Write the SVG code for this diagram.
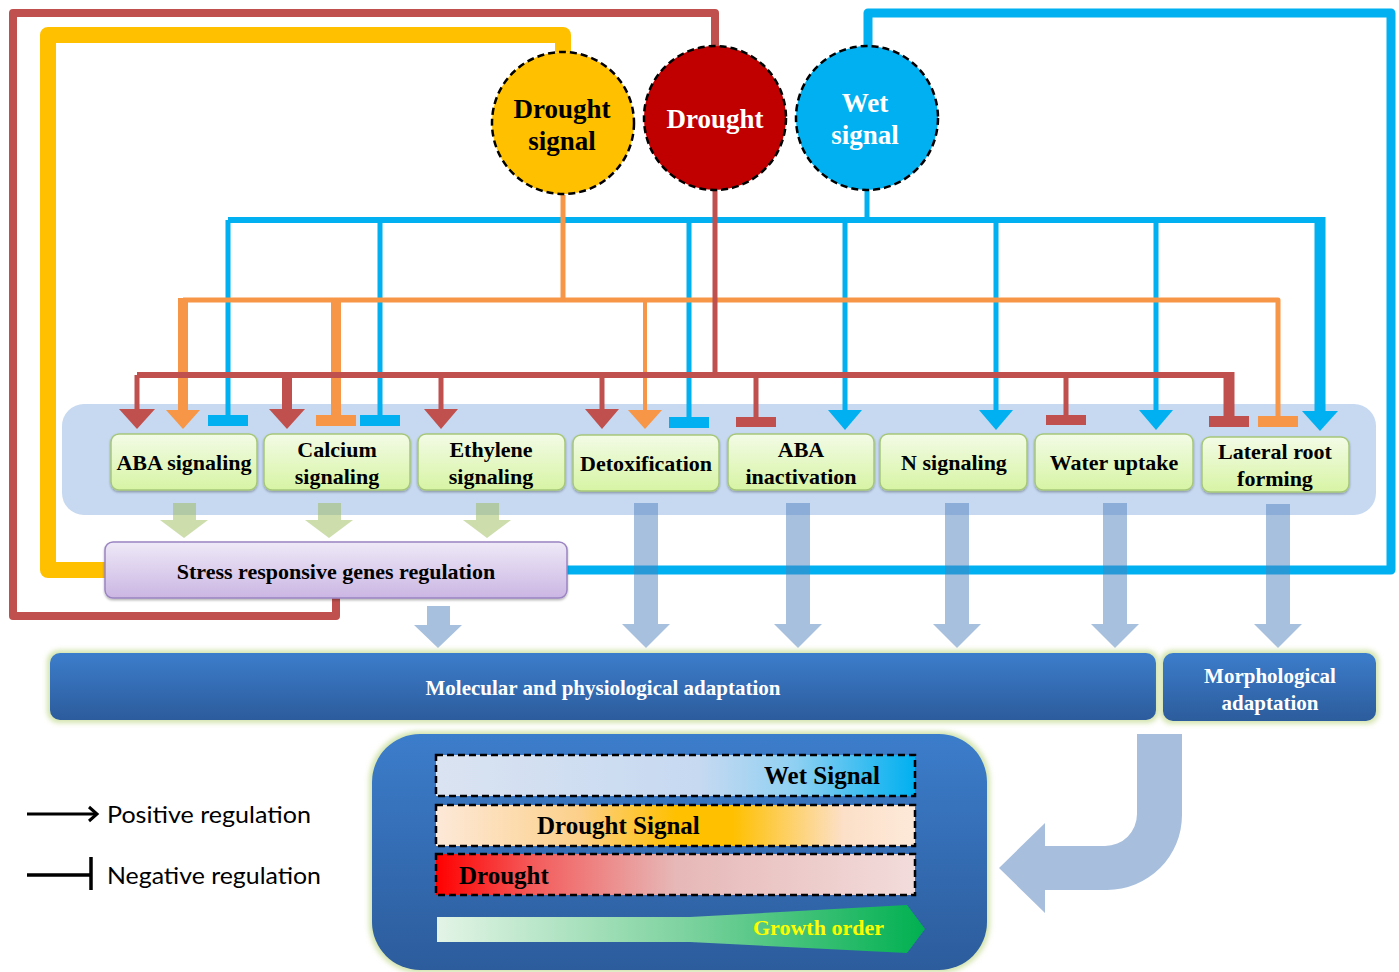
<svg xmlns="http://www.w3.org/2000/svg" width="1399" height="972" viewBox="0 0 1399 972">
<defs>
<style>
.t{font-family:"Liberation Serif","Times New Roman",serif;font-weight:bold;text-anchor:middle;}
.nt{font-size:22px;fill:#000;}
.wt{fill:#fff;}
.leg{font-family:Lato,"Liberation Sans",sans-serif;font-size:24px;fill:#000;}
.red{stroke:#C0504D;fill:none;}
.org{stroke:#F79646;fill:none;}
.blu{stroke:#00B0F0;fill:none;}
.redf{fill:#C0504D;}
.orgf{fill:#F79646;}
.bluf{fill:#00B0F0;}
.node{fill:url(#gNode);stroke:#A6C77A;stroke-width:1.5;filter:url(#sh);}
.circ{stroke:#000;stroke-width:2.5;stroke-dasharray:7 4;}
.barb{stroke:#000;stroke-width:2.5;stroke-dasharray:7 4;}
.barrow{fill:#4F81BD;fill-opacity:0.5;}
.garrow{fill:#9BBB59;fill-opacity:0.5;}
.bigbox{fill:url(#gBlue);}
</style>
<linearGradient id="gNode" x1="0" y1="0" x2="0" y2="1">
<stop offset="0" stop-color="#F3FBE6"/><stop offset="1" stop-color="#D7F4A4"/>
</linearGradient>
<linearGradient id="gStress" x1="0" y1="0" x2="0" y2="1">
<stop offset="0" stop-color="#EEE9F7"/><stop offset="1" stop-color="#CBB6E3"/>
</linearGradient>
<linearGradient id="gBlue" x1="0" y1="0" x2="0" y2="1">
<stop offset="0" stop-color="#3C7DCB"/><stop offset="1" stop-color="#2C5C9C"/>
</linearGradient>
<linearGradient id="gWet" x1="0" y1="0" x2="1" y2="0">
<stop offset="0" stop-color="#DAE3F1"/><stop offset="0.55" stop-color="#C6D9F1"/><stop offset="0.75" stop-color="#8FD0F2"/><stop offset="1" stop-color="#00B0F0"/>
</linearGradient>
<linearGradient id="gDS" x1="0" y1="0" x2="1" y2="0">
<stop offset="0" stop-color="#FDE9D9"/><stop offset="0.3" stop-color="#FCD08A"/><stop offset="0.5" stop-color="#FFC000"/><stop offset="0.62" stop-color="#FFC000"/><stop offset="0.85" stop-color="#FCE0C8"/><stop offset="1" stop-color="#FDE9D9"/>
</linearGradient>
<linearGradient id="gDr" x1="0" y1="0" x2="1" y2="0">
<stop offset="0" stop-color="#FF0000"/><stop offset="0.2" stop-color="#F45A5A"/><stop offset="0.5" stop-color="#E6B8B7"/><stop offset="1" stop-color="#F2DCDB"/>
</linearGradient>
<linearGradient id="gGrow" x1="0" y1="0" x2="1" y2="0">
<stop offset="0" stop-color="#E3F4E6"/><stop offset="0.5" stop-color="#7FD3A0"/><stop offset="1" stop-color="#00B050"/>
</linearGradient>
<filter id="sh" x="-10%" y="-10%" width="120%" height="130%">
<feDropShadow dx="0" dy="1.5" stdDeviation="1" flood-color="#000" flood-opacity="0.3"/>
</filter>
<filter id="glow" x="-5%" y="-10%" width="110%" height="120%">
<feGaussianBlur stdDeviation="2.5"/>
</filter>
</defs>

<rect width="1399" height="972" fill="#fff"/>

<!-- feedback loops -->
<g id="feedback">
<path class="red" stroke-width="8" stroke-linejoin="round" d="M715,47 V13 H13 V616 H336 V598"/>
<path d="M563,52 V35 H48 V570 H105" stroke="#FFC000" stroke-width="16" fill="none" stroke-linejoin="round"/>
<path class="blu" stroke-width="9" stroke-linejoin="round" d="M868,47 V13 H1391 V570 H567"/>
</g>

<!-- background group -->
<rect id="process-group" x="62" y="404" width="1314" height="111" rx="22" fill="#C6D9F1"/>

<!-- connectors -->
<g id="connectors">
<!-- blue (wet signal) -->
<path class="blu" stroke-width="5" d="M867,190 V220"/>
<path class="blu" stroke-width="6" d="M228,220 H1320"/>
<path class="blu" stroke-width="5" d="M228,220 V416 M380,220 V416 M689,220 V418 M845,220 V412 M996,220 V412 M1156,220 V412"/>
<path class="blu" stroke-width="11" d="M1320,217 V414"/>
<rect class="bluf" x="208" y="415" width="40" height="11"/>
<rect class="bluf" x="360" y="415" width="40" height="11"/>
<rect class="bluf" x="669" y="417" width="40" height="11"/>
<polygon class="bluf" points="828,410 862,410 845,430"/>
<polygon class="bluf" points="979,410 1013,410 996,430"/>
<polygon class="bluf" points="1139,410 1173,410 1156,430"/>
<polygon class="bluf" points="1302,411 1338,411 1320,431"/>

<!-- orange (drought signal) -->
<path class="org" stroke-width="5" d="M563,195 V300"/>
<path class="org" stroke-width="5" stroke-linejoin="round" d="M183,300 H1278 V416"/>
<path class="org" stroke-width="10" d="M183,298 V412 M336,298 V416"/>
<path class="org" stroke-width="4" d="M645,300 V412"/>
<polygon class="orgf" points="166,410 200,410 183,429"/>
<rect class="orgf" x="316" y="415" width="40" height="11"/>
<polygon class="orgf" points="628,410 662,410 645,429"/>
<rect class="orgf" x="1258" y="416" width="40" height="11"/>

<!-- red (drought) -->
<path class="red" stroke-width="5" d="M715,190 V375"/>
<path class="red" stroke-width="6" d="M137,375 H1232"/>
<path class="red" stroke-width="5" d="M137,375 V410 M441,375 V410 M602,375 V410 M756,375 V418 M1066,375 V416"/>
<path class="red" stroke-width="10" d="M287,375 V410"/>
<path class="red" stroke-width="11" d="M1229,372 V418"/>
<polygon class="redf" points="119,409 155,409 137,429"/>
<polygon class="redf" points="269,409 305,409 287,429"/>
<polygon class="redf" points="424,409 458,409 441,429"/>
<polygon class="redf" points="585,409 619,409 602,429"/>
<rect class="redf" x="736" y="417" width="40" height="10"/>
<rect class="redf" x="1046" y="415" width="40" height="10"/>
<rect class="redf" x="1209" y="416" width="40" height="11"/>

<!-- green arrows to stress box -->
<polygon class="garrow" points="173,503 196,503 196,520 208,520 184,538 160,520 173,520"/>
<polygon class="garrow" points="318,503 341,503 341,520 353,520 329,538 305,520 318,520"/>
<polygon class="garrow" points="476,503 499,503 499,520 511,520 487,538 463,520 476,520"/>

<!-- blue arrows to adaptation -->
<polygon class="barrow" points="427,606 450,606 450,625 462,625 438,648 414,625 427,625"/>
<polygon class="barrow" points="634,503 658,503 658,624 670,624 646,648 622,624 634,624"/>
<polygon class="barrow" points="786,503 810,503 810,624 822,624 798,648 774,624 786,624"/>
<polygon class="barrow" points="945,503 969,503 969,624 981,624 957,648 933,624 945,624"/>
<polygon class="barrow" points="1103,503 1127,503 1127,624 1139,624 1115,648 1091,624 1103,624"/>
<polygon class="barrow" points="1266,504 1290,504 1290,624 1302,624 1278,648 1254,624 1266,624"/>

<!-- big curved arrow -->
<path d="M1137,734 L1182,734 L1182,815 A75,75 0 0 1 1107,890 L1045,890 L1045,913 L999,868 L1045,823 L1045,846 L1105,846 A32,32 0 0 0 1137,814 Z" fill="#A7BFDD"/>
</g>

<!-- signal circles -->
<g id="drought-signal">
<ellipse class="circ" cx="563" cy="123" rx="71" ry="71" fill="#FFC000"/>
<text class="t" x="562" y="118" font-size="27" fill="#000">Drought</text>
<text class="t" x="562" y="150" font-size="27" fill="#000">signal</text>
</g>
<g id="drought">
<ellipse class="circ" cx="715" cy="118" rx="71" ry="72" fill="#C00000"/>
<text class="t wt" x="715" y="128" font-size="27">Drought</text>
</g>
<g id="wet-signal">
<ellipse class="circ" cx="867" cy="118" rx="71" ry="72" fill="#00B0F0"/>
<text class="t wt" x="865" y="112" font-size="27">Wet</text>
<text class="t wt" x="865" y="144" font-size="27">signal</text>
</g>

<!-- process nodes -->
<g id="aba-signaling">
<rect class="node" x="111" y="434" width="146" height="56" rx="8"/>
<text class="t nt" x="184" y="470">ABA signaling</text>
</g>
<g id="calcium-signaling">
<rect class="node" x="264" y="434" width="146" height="56" rx="8"/>
<text class="t nt" x="337" y="457">Calcium</text>
<text class="t nt" x="337" y="484">signaling</text>
</g>
<g id="ethylene-signaling">
<rect class="node" x="418" y="434" width="147" height="56" rx="8"/>
<text class="t nt" x="491" y="457">Ethylene</text>
<text class="t nt" x="491" y="484">signaling</text>
</g>
<g id="detoxification">
<rect class="node" x="573" y="435" width="146" height="56" rx="8"/>
<text class="t nt" x="646" y="471">Detoxification</text>
</g>
<g id="aba-inactivation">
<rect class="node" x="728" y="434" width="146" height="56" rx="8"/>
<text class="t nt" x="801" y="457">ABA</text>
<text class="t nt" x="801" y="484">inactivation</text>
</g>
<g id="n-signaling">
<rect class="node" x="880" y="434" width="147" height="56" rx="8"/>
<text class="t nt" x="954" y="470">N signaling</text>
</g>
<g id="water-uptake">
<rect class="node" x="1035" y="434" width="158" height="56" rx="8"/>
<text class="t nt" x="1114" y="470">Water uptake</text>
</g>
<g id="lateral-root-forming">
<rect class="node" x="1202" y="437" width="147" height="55" rx="8"/>
<text class="t nt" x="1275" y="459">Lateral root</text>
<text class="t nt" x="1275" y="486">forming</text>
</g>

<g id="stress-responsive">
<rect x="105" y="542" width="462" height="56" rx="8" fill="url(#gStress)" stroke="#9B84C2" stroke-width="1.5" filter="url(#sh)"/>
<text class="t" x="336" y="579" font-size="22">Stress responsive genes regulation</text>
</g>

<g id="molecular-adaptation">
<rect x="47" y="650" width="1112" height="73" rx="12" fill="#D3E4AE" filter="url(#glow)"/>
<rect class="bigbox" x="50" y="653" width="1106" height="67" rx="10"/>
<text class="t wt" x="603" y="695" font-size="21">Molecular and physiological adaptation</text>
</g>
<g id="morphological-adaptation">
<rect x="1160" y="650" width="219" height="74" rx="12" fill="#D3E4AE" filter="url(#glow)"/>
<rect class="bigbox" x="1163" y="653" width="213" height="68" rx="10"/>
<text class="t wt" x="1270" y="683" font-size="21">Morphological</text>
<text class="t wt" x="1270" y="710" font-size="21">adaptation</text>
</g>

<g id="growth-panel">
<rect x="369" y="731" width="621" height="242" rx="50" fill="#D3E4AE" filter="url(#glow)"/>
<rect class="bigbox" x="372" y="734" width="615" height="236" rx="48"/>
<rect class="barb" x="436" y="755" width="479" height="41" fill="url(#gWet)"/>
<text class="t" x="880" y="784" font-size="25" text-anchor="end" style="text-anchor:end">Wet Signal</text>
<rect class="barb" x="436" y="805" width="479" height="41" fill="url(#gDS)"/>
<text class="t" x="537" y="834" font-size="25" style="text-anchor:start">Drought Signal</text>
<rect class="barb" x="436" y="854" width="479" height="41" fill="url(#gDr)"/>
<text class="t" x="459" y="884" font-size="25" style="text-anchor:start">Drought</text>
<polygon points="437,917 690,917 907,905 925,929 907,953 690,942 437,942" fill="url(#gGrow)"/>
<text class="t" x="753" y="935" font-size="22" fill="#FFFF00" style="text-anchor:start">Growth order</text>
</g>

<g id="legend">
<path d="M27,814 H96" stroke="#000" stroke-width="3" fill="none"/>
<path d="M89,807 L97,814 L89,821" stroke="#000" stroke-width="3" fill="none"/>
<text class="leg" x="107" y="823" textLength="204" lengthAdjust="spacingAndGlyphs">Positive regulation</text>
<path d="M27,875 H91 M91,857 V890" stroke="#000" stroke-width="3.5" fill="none"/>
<text class="leg" x="107" y="884" textLength="214" lengthAdjust="spacingAndGlyphs">Negative regulation</text>
</g>
</svg>
